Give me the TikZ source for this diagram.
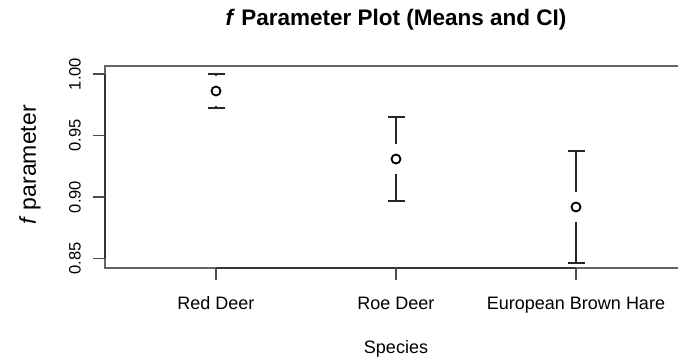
\documentclass[tikz,border=0pt]{standalone}
\usepackage{fontspec}
\setmainfont{Liberation Sans}
\begin{document}
\begin{tikzpicture}[x=1pt,y=-1pt,
  boxline/.style={draw=black!60,line width=1.2pt},
  axisline/.style={draw=black!80,line width=1.6pt},
  tickline/.style={draw=black!70,line width=1.4pt},
  bar/.style={draw=black!85,line width=1.8pt},
  meanpt/.style={circle,draw=black,line width=1.8pt,minimum size=9pt,inner sep=0pt},
  ticklab/.style={font=\fontsize{16.5}{16.5}\selectfont,rotate=90,inner sep=0pt},
  xlab/.style={font=\fontsize{18}{18}\selectfont,inner sep=0pt,anchor=base},
]
\useasboundingbox (0,0) rectangle (678,360);
% title
\node[font=\fontsize{22.5}{22.5}\selectfont\bfseries] (title) at (396,20) {\textit{f} Parameter Plot (Means and CI)};
% box
\coordinate (bl) at (105,268);
\coordinate (tl) at (105,66);
\coordinate (tr) at (690,66);
\coordinate (br) at (690,268);
\draw[boxline] (tr) -- (tl) -- (bl) -- (br);
% axes lines
\coordinate (ya) at (105,74);
\coordinate (yb) at (105,258.5);
\draw[axisline] (ya) -- (yb);
\coordinate (xa) at (216,268);
\coordinate (xb) at (576,268);
\draw[axisline] (xa) -- (xb);
% y ticks
\foreach \v/\y/\n in {1.00/74/a,0.95/135.5/b,0.90/197/c,0.85/258.5/d}{
  \coordinate (yt\n) at (105,\y);
  \coordinate (ye\n) at (93,\y);
  \draw[tickline] (yt\n) -- (ye\n);
  \node[ticklab] (yl\n) at (75,\y) {\v};
}
% x ticks
\foreach \x/\lab/\n in {216/Red Deer/a,396/Roe Deer/b,576/European Brown Hare/c}{
  \coordinate (xt\n) at (\x,268);
  \coordinate (xe\n) at (\x,280);
  \draw[tickline] (xt\n) -- (xe\n);
  \node[xlab] (xl\n) at (\x,309) {\lab};
}
% axis titles
\node[xlab] (xtitle) at (396,353) {Species};
\node[font=\fontsize{23}{23}\selectfont,rotate=90,inner sep=0pt] (ytitle) at (30,165) {\textit{f} parameter};
% error bars
\foreach \x/\u/\m/\l/\n in {216/74/91/108/a,396/117/159/201/b,576/151/207/263/c}{
  \coordinate (cu\n) at (\x,\u);
  \coordinate (cl\n) at (\x,\l);
  \coordinate (gu\n) at (\x,\m-15);
  \coordinate (gl\n) at (\x,\m+15);
  \draw[bar] (cu\n) -- (gu\n);
  \draw[bar] (gl\n) -- (cl\n);
  \draw[bar] ([xshift=-8.5pt]cu\n) -- ([xshift=8.5pt]cu\n);
  \draw[bar] ([xshift=-8.5pt]cl\n) -- ([xshift=8.5pt]cl\n);
  \node[meanpt] (m\n) at (\x,\m) {};
}
\end{tikzpicture}
\end{document}
